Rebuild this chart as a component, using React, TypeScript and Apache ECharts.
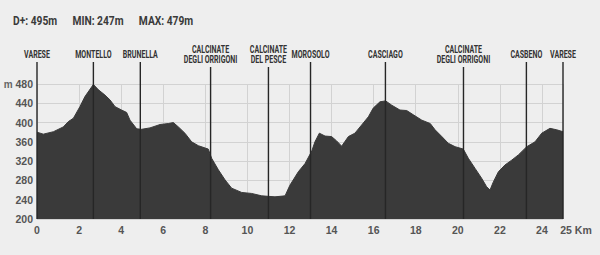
import React, { useEffect, useRef } from "react";
import * as echarts from "echarts";

const statLabels = ["D+:", "MIN:", "MAX:"];
const statValues = ["495m", "247m", "479m"];

const distances = [0,0.3,0.78,1.25,1.49,1.73,2.04,2.28,2.68,2.92,3.23,3.47,3.71,4.02,4.26,4.42,4.74,4.97,5.37,5.85,6.24,6.48,6.72,7.03,7.35,7.67,8.14,8.3,8.62,8.94,9.25,9.73,10.2,10.68,11.31,11.79,12.02,12.42,12.74,13.06,13.21,13.42,13.69,14.0,14.24,14.48,14.8,15.11,15.43,15.75,15.98,16.3,16.57,16.86,17.25,17.57,17.89,18.29,18.69,18.92,19.24,19.55,19.87,20.26,20.5,20.82,21.14,21.37,21.53,21.69,21.93,22.24,22.56,22.88,23.28,23.67,23.99,24.38,24.7,25];
const elevations = [380,376,381,391,402,409,433,454,479,468,457,447,433,426,421,405,387,386,389,396,398,400,391,378,360,352,345,326,302,281,264,255,253,248,246,248,270,298,315,341,360,378,372,371,362,351,371,378,395,412,430,443,445,436,426,425,416,405,398,385,371,357,350,345,326,305,284,267,260,277,298,312,322,333,350,360,378,388,385,381];

const placeKm = [0, 2.68, 4.91, 8.25, 11.0, 13.0, 16.56, 20.27, 23.26, 25];
const placeNames = [
  "VARESE",
  "MONTELLO",
  "BRUNELLA",
  "CALCINATE\nDEGLI ORRIGONI",
  "CALCINATE\nDEL PESCE",
  "MOROSOLO",
  "CASCIAGO",
  "CALCINATE\nDEGLI ORRIGONI",
  "CASBENO",
  "VARESE",
];

const X_MIN = 0, X_MAX = 25, X_STEP = 2;
const Y_MIN = 200, Y_MAX = 480, Y_STEP = 40;

const FONT = 'Roboto, "Liberation Sans", sans-serif';
const TICK_FONT = '"Liberation Sans", Roboto, sans-serif';

export default function App() {
  const ref = useRef<HTMLDivElement>(null);
  useEffect(() => {
    if (!ref.current) return;
    const chart = echarts.init(ref.current, undefined, { renderer: "svg" });
    const header = statLabels.map((l, i) => `${l} ${statValues[i]}`).join("      ");
    chart.setOption({
      animation: false,
      backgroundColor: "#eeeeee",
      graphic: [
        {
          type: "text",
          x: 13,
          y: 21,
          scaleX: 0.82,
          style: {
            text: header,
            fill: "#3a3a3a",
            font: `bold 12.5px ${FONT}`,
            verticalAlign: "middle",
          },
        },
      ],
      grid: { left: 37, right: 37, top: 84, bottom: 36 },
      xAxis: {
        type: "value",
        min: X_MIN,
        max: X_MAX,
        interval: X_STEP,
        axisLine: { show: false },
        axisTick: { show: false },
        splitLine: { show: true, lineStyle: { color: "#d2d2d2", width: 1 } },
        axisLabel: {
          margin: 5,
          fontFamily: TICK_FONT,
          fontSize: 10.5,
          fontWeight: "bold",
          color: "#555",
          formatter: (v: number) => (v === X_MAX ? `{k|${v} Km}` : `${v}`),
          rich: { k: { fontFamily: TICK_FONT, fontSize: 10.5, fontWeight: "bold", color: "#555", padding: [0, 0, 0, 26] } },
        },
      },
      yAxis: {
        type: "value",
        min: Y_MIN,
        max: Y_MAX,
        interval: Y_STEP,
        axisLine: { show: false },
        axisTick: { show: false },
        splitLine: { show: true, lineStyle: { color: "#d2d2d2", width: 1 } },
        axisLabel: {
          margin: 4,
          fontFamily: TICK_FONT,
          fontSize: 10.5,
          fontWeight: "bold",
          color: "#555",
          formatter: (v: number) => (v === Y_MAX ? `{m|m} ${v}` : `${v}`),
          rich: { m: { fontFamily: TICK_FONT, fontSize: 10, color: "#666" } },
        },
      },
      series: [
        {
          type: "line",
          data: distances.map((d, i) => [d, elevations[i]]),
          symbol: "none",
          lineStyle: { width: 1, color: "#3a3a3a" },
          areaStyle: { color: "#3a3a3a", opacity: 1 },
          z: 2,
        },
        {
          type: "custom",
          data: placeKm.map((k) => [k, Y_MAX]),
          clip: false,
          z: 5,
          silent: true,
          renderItem: (params: any, api: any) => {
            const idx = params.dataIndex;
            const name = placeNames[idx];
            const lines = name.split("\n").length;
            const top = api.coord([api.value(0), Y_MAX]);
            const bottom = api.coord([api.value(0), Y_MIN]);
            const cy = top[1] - 30;
            const lineTop = cy + lines * 5 + 3;
            return {
              type: "group",
              children: [
                {
                  type: "line",
                  shape: { x1: top[0], y1: lineTop, x2: bottom[0], y2: bottom[1] },
                  style: { stroke: "#262626", lineWidth: 1.4 },
                },
                {
                  type: "text",
                  x: top[0],
                  y: cy,
                  scaleX: 0.64,
                  style: {
                    text: name,
                    fill: "#333",
                    font: `bold 11px ${FONT}`,
                    align: "center",
                    verticalAlign: "middle",
                    lineHeight: 10,
                  },
                },
              ],
            };
          },
        },
      ],
    });
    return () => chart.dispose();
  }, []);
  return <div ref={ref} style={{ width: 600, height: 255, position: "absolute", left: 0, top: 0 }} />;
}
